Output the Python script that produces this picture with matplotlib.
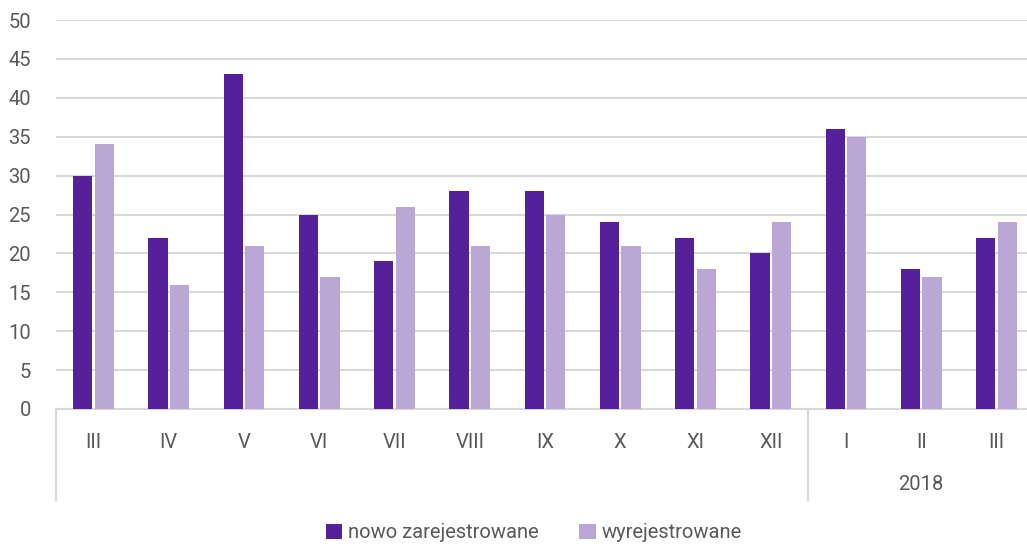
import matplotlib.pyplot as plt
import numpy as np

months = ['III', 'IV', 'V', 'VI', 'VII', 'VIII', 'IX', 'X', 'XI', 'XII', 'I', 'II', 'III']
nowo = [30, 22, 43, 25, 19, 28, 28, 24, 22, 20, 36, 18, 22]
wyrej = [34, 16, 21, 17, 26, 21, 25, 21, 18, 24, 35, 17, 24]
year_label = '2018'

plt.rcParams['font.family'] = ['Roboto', 'DejaVu Sans']

dark = '#54219A'
light = '#BBA7D6'
grey = '#595959'
grid_c = '#D9D9D9'

fig = plt.figure(figsize=(10.27, 5.46), dpi=100)
W, H = 1027, 546
x0, x1 = 56, 1034
y0, y1 = 409, 20
ax = fig.add_axes([x0 / W, 1 - y0 / H, (x1 - x0) / W, (y0 - y1) / H])

x = np.arange(len(months))
off = 0.143
bw = 0.255
ax.bar(x - off, nowo, bw, color=dark, label='nowo zarejestrowane', zorder=3)
ax.bar(x + off, wyrej, bw, color=light, label='wyrejestrowane', zorder=3)

ax.set_xlim(-0.5, len(months) - 0.5)
ax.set_ylim(0, 50)
ax.set_yticks(range(0, 51, 5))
ax.yaxis.grid(True, color=grid_c, linewidth=1.5, zorder=0)
ax.set_axisbelow(True)
for s in ['top', 'right', 'left']:
    ax.spines[s].set_visible(False)
ax.spines['bottom'].set_color(grid_c)
ax.spines['bottom'].set_linewidth(1.5)
ax.tick_params(axis='y', length=0, labelsize=14.5, labelcolor=grey, pad=18)
ax.tick_params(axis='x', length=0, labelsize=14.5, labelcolor=grey, pad=17)
ax.set_xticks(x)
ax.set_xticklabels(months)

# group separators below the axis
sep_depth = (500 - 409) / (y0 - y1)
for xs in [-0.5, 9.5]:
    ax.plot([xs, xs], [0, -sep_depth * 50], color=grid_c, linewidth=1.5,
            clip_on=False, zorder=1)
ax.text(11, -(485 - 409) / (y0 - y1) * 50, year_label, ha='center', va='center',
        fontsize=14.5, color=grey)

fig.legend(loc='center', bbox_to_anchor=(534 / W, 1 - 533 / H), ncol=2,
           frameon=False, fontsize=14.5, labelcolor=grey, handlelength=0.8,
           handleheight=0.8, handletextpad=0.3, columnspacing=2.0)

fig.savefig('out.png', dpi=100)
